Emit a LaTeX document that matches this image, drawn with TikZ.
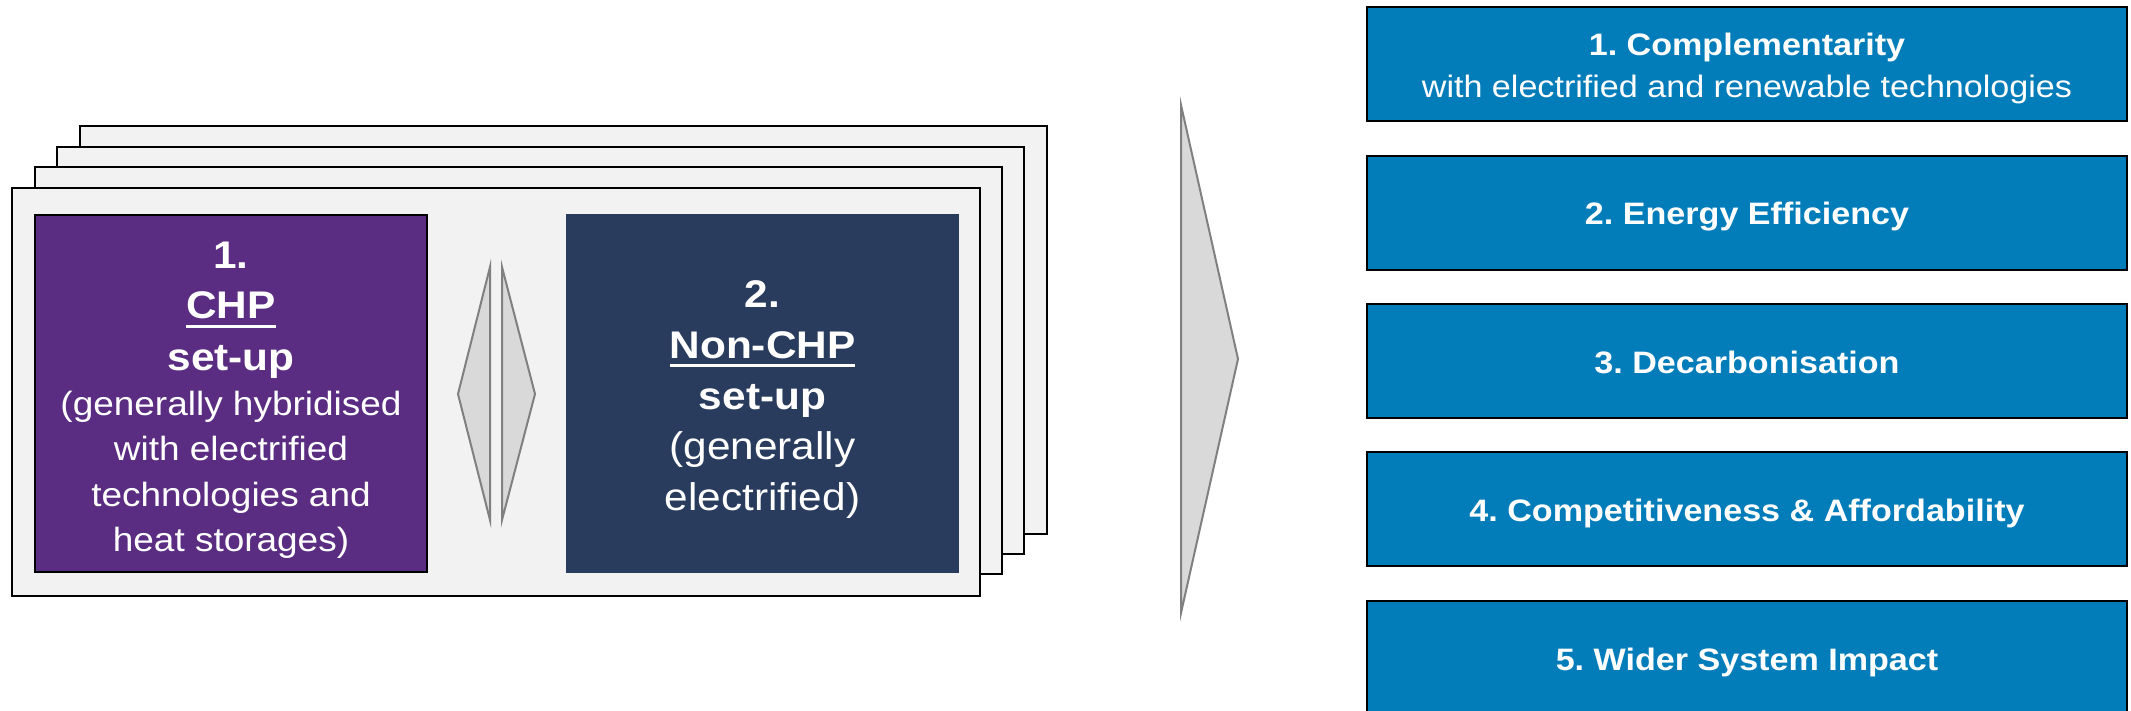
\documentclass[tikz,border=0pt]{standalone}
\usepackage{fontspec}
\setmainfont{Liberation Sans}[FakeStretch=1.1]
\frenchspacing

\definecolor{cardgray}{RGB}{242,242,242}
\definecolor{chppurple}{RGB}{90,45,130}
\definecolor{noncnavy}{RGB}{41,60,94}
\definecolor{critblue}{RGB}{3,124,186}
\definecolor{arrowfill}{RGB}{217,217,217}
\definecolor{arrowedge}{RGB}{128,128,128}

% underline drawn as a rule below the baseline, scaled with the font
\newsavebox\ulsave
\newcommand\chpul[1]{\sbox\ulsave{#1}\rlap{\rule[-0.225em]{\wd\ulsave}{0.07em}}\usebox\ulsave}

\begin{document}
\begin{tikzpicture}[x=1pt,y=-1pt,
  card/.style={draw=black,line width=2pt,fill=cardgray},
  arrowshape/.style={draw=arrowedge,fill=arrowfill,line width=2pt,line join=miter},
  critbox/.style={draw=black,line width=1.8pt,fill=critblue,inner sep=0pt,outer sep=0pt,
                  minimum width=760pt,minimum height=114pt},
  ln/.style={anchor=base,text=white,inner sep=0pt,outer sep=0pt},
  bigbold/.style={ln,font=\fontsize{38.5}{46}\selectfont\bfseries},
  bigreg/.style={ln,font=\fontsize{38.5}{46}\selectfont},
  smallreg/.style={ln,font=\fontsize{33.6}{40}\selectfont},
  critbold/.style={ln,font=\fontsize{31}{37}\selectfont\bfseries},
  critreg/.style={ln,font=\fontsize{31}{37}\selectfont}]

\useasboundingbox (0,0) rectangle (2131,711);

% stacked cards, back to front
\draw[card] (80,126) rectangle (1047,534);
\draw[card] (57,147) rectangle (1024,554);
\draw[card] (35,167) rectangle (1002,574);
\draw[card] (12,188) rectangle (980,596);

% the two set-up boxes
\node[draw=black,line width=2pt,fill=chppurple,inner sep=0pt,outer sep=0pt,
      minimum width=392pt,minimum height=357pt] (chp) at (231,393.5) {};
\node[fill=noncnavy,inner sep=0pt,outer sep=0pt,
      minimum width=393pt,minimum height=359pt] (nonchp) at (762.5,393.5) {};

% CHP text
\node[bigbold]  (chp1) at (231,268.3) {1.};
\node[bigbold]  (chp2) at (231,319)   {\chpul{CHP}};
\node[bigbold]  (chp3) at (231,370.7) {set-up};
\node[smallreg] (chp4) at (231,415)   {(generally hybridised};
\node[smallreg] (chp5) at (231,460.7) {with electrified};
\node[smallreg] (chp6) at (231,506)   {technologies and};
\node[smallreg] (chp7) at (231,551.7) {heat storages)};

% Non-CHP text
\node[bigbold] (nc1) at (762.5,307.3) {2.};
\node[bigbold] (nc2) at (762.5,358.3) {\chpul{Non-CHP}};
\node[bigbold] (nc3) at (762.5,409.3) {set-up};
\node[bigreg]  (nc4) at (762.5,459.3) {(generally};
\node[bigreg]  (nc5) at (762.5,510.7) {electrified)};

% two-way arrow between the set-ups
\draw[arrowshape] (490,267) -- (458,394) -- (490,520) -- cycle;
\draw[arrowshape] (502,267) -- (535,394) -- (502,520) -- cycle;

% large arrow towards the criteria
\draw[arrowshape] (1181,105) -- (1238,359) -- (1181,613) -- cycle;

% criteria boxes
\node[critbox] (r1) at (1747,64)  {};
\node[critbox] (r2) at (1747,213) {};
\node[critbox] (r3) at (1747,361) {};
\node[critbox] (r4) at (1747,509) {};
\node[critbox] (r5) at (1747,658) {};

\node[critbold] (r1a) at (1747,55.7) {1. Complementarity};
\node[critreg]  (r1b) at (1747,97.7) {with electrified and renewable technologies};
\node[critbold] (r2a) at (1747,225)  {2. Energy Efficiency};
\node[critbold] (r3a) at (1747,373)  {3. Decarbonisation};
\node[critbold] (r4a) at (1747,521)  {4. Competitiveness \& Affordability};
\node[critbold] (r5a) at (1747,670)  {5. Wider System Impact};

\end{tikzpicture}
\end{document}
